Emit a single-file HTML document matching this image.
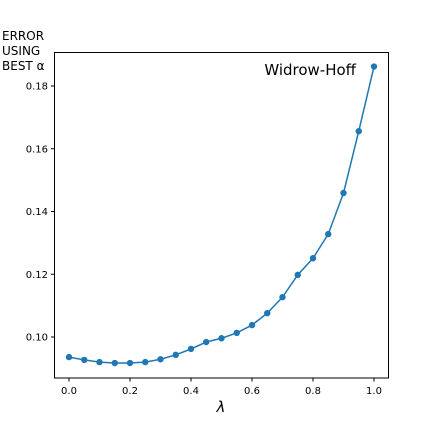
<!DOCTYPE html>
<html><head><meta charset="utf-8">
<style>
html,body{margin:0;padding:0;background:#fff;}
svg{display:block;font-family:"DejaVu Sans","Liberation Sans",sans-serif;}
</style></head>
<body>
<svg id="chart" width="432" height="432" viewBox="0 0 432 432">
  <text x="2" y="40" font-size="12" fill="#000">ERROR</text>
  <text x="2" y="55" font-size="12" fill="#000">USING</text>
  <text x="2" y="70" font-size="12" fill="#000">BEST α</text>
  <rect x="54.5" y="52.5" width="334" height="325.5" fill="none" stroke="#000" stroke-width="1"/>
  <text x="356" y="75" font-size="15" text-anchor="end" fill="#000">Widrow-Hoff</text>
  <text x="221" y="412" font-size="15" font-style="italic" text-anchor="middle" fill="#000">λ</text>
  <g id="axes"></g>
  <g id="series"></g>
</svg>
<script>
const lambdas=[0,0.05,0.1,0.15,0.2,0.25,0.3,0.35,0.4,0.45,0.5,0.55,0.6,0.65,0.7,0.75,0.8,0.85,0.9,0.95,1.0];
const errors=[0.0936,0.0927,0.0920,0.0917,0.0917,0.0920,0.0929,0.0943,0.0962,0.0984,0.0996,0.1013,0.1038,0.1076,0.1127,0.1198,0.1251,0.1328,0.1459,0.1656,0.1862];
const xTicks=[0.0,0.2,0.4,0.6,0.8,1.0];
const xTickLabels=["0.0","0.2","0.4","0.6","0.8","1.0"];
const yTicks=[0.10,0.12,0.14,0.16,0.18];
const yTickLabels=["0.10","0.12","0.14","0.16","0.18"];

const NS="http://www.w3.org/2000/svg";
function xs(v){return 69+v*305;}
function ys(v){return 337-(v-0.10)*3137.5;}
const axes=document.getElementById('axes');
const series=document.getElementById('series');
function mk(tag,attrs,parent){const e=document.createElementNS(NS,tag);for(const k in attrs)e.setAttribute(k,attrs[k]);parent.appendChild(e);return e;}
xTicks.forEach((t,i)=>{
  const l=mk('line',{x1:xs(t),x2:xs(t),y1:378,y2:381.5,stroke:'#000'},axes);
  
  
  const tx=mk('text',{x:xs(t),y:394,'font-size':10,'text-anchor':'middle'},axes);
  tx.textContent=xTickLabels[i];
  
  
});
yTicks.forEach((t,i)=>{
  const l=mk('line',{x1:51,x2:54.5,y1:ys(t),y2:ys(t),stroke:'#000'},axes);
  
  
  const tx=mk('text',{x:48,y:ys(t)+3.5,'font-size':10,'text-anchor':'end'},axes);
  tx.textContent=yTickLabels[i];
  
  
});
const pts=lambdas.map((l,i)=>xs(l)+','+ys(errors[i])).join(' ');
const pl=mk('polyline',{points:pts,fill:'none',stroke:'#1f77b4','stroke-width':1.5},series);


lambdas.forEach((l,i)=>{
  const c=mk('circle',{cx:xs(l),cy:ys(errors[i]),r:3.2,fill:'#1f77b4'},series);
  
  
});
</script>
</body></html>
